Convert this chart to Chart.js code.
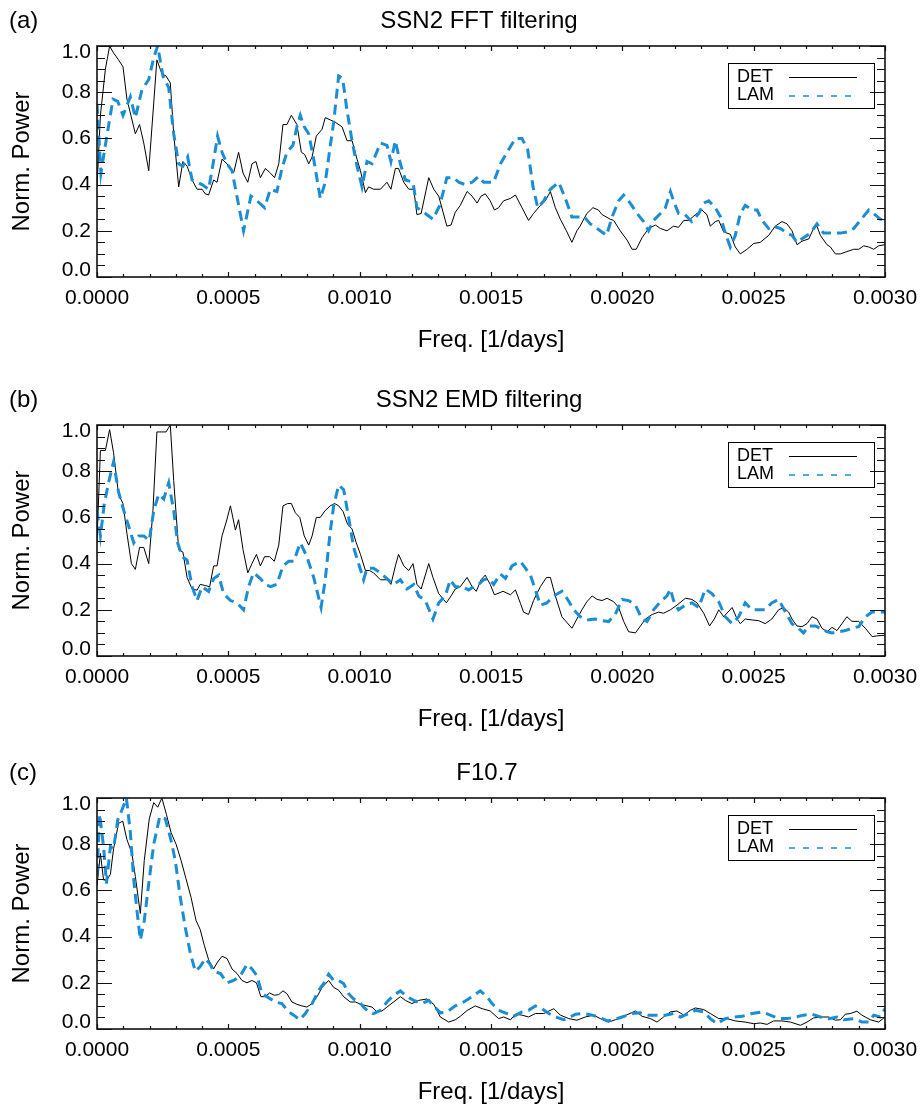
<!DOCTYPE html>
<html>
<head>
<meta charset="utf-8">
<title>Normalised power spectra</title>
<script src="https://cdn.jsdelivr.net/npm/chart.js@4.4.0/dist/chart.umd.min.js"></script>
<style>
  body { margin: 0; background: #fff; }
  #wrap { position: relative; width: 920px; height: 1108px; overflow: hidden; }
  .panel { position: absolute; left: 0; width: 920px; height: 356px; }
</style>
</head>
<body>
<div id="wrap">
  <div class="panel" style="top:0"><canvas id="chartA" width="920" height="356"></canvas></div>
  <div class="panel" style="top:379px"><canvas id="chartB" width="920" height="356"></canvas></div>
  <div class="panel" style="top:752px"><canvas id="chartC" width="920" height="356"></canvas></div>
</div>
<script>
// frequencies are in units of 1e-5 1/days, power is normalised to the max

// (a) SSN2 FFT filtering
const fftDetFreq = [0, 1.3, 3.2, 4.8, 6.3, 8.2, 9.9, 11.4, 12.9, 14.6,
  16.2, 17.8, 19.7, 22.8, 24.7, 26.3, 27.9, 29.2, 31.1, 32.7,
  34.3, 36.2, 38.1, 40.0, 41.2, 42.5, 44.4, 45.7, 47.6, 49.5,
  52.0, 53.9, 55.6, 57.4, 59.0, 60.5, 62.2, 64.1, 66.0, 67.6,
  69.2, 70.8, 72.3, 74.0, 76.1, 77.8, 79.1, 80.6, 81.9, 83.5,
  85.7, 86.9, 88.8, 90.7, 93.3, 95.2, 97.1, 99.0, 100.3, 102.2,
  103.4, 105.3, 107.9, 110.4, 111.9, 113.6, 114.8, 116.8, 118.7, 120.6,
  121.8, 123.4, 126.3, 128.2, 130.1, 133.2, 134.8, 136.4, 138.3, 140.9,
  142.8, 144.7, 146.2, 147.8, 149.7, 151.3, 152.9, 154.8, 157.4, 159.3,
  161.8, 164.3, 166.2, 168.8, 170.7, 172.6, 174.5, 176.4, 178.7, 180.8,
  182.7, 183.9, 186.5, 188.8, 190.9, 192.3, 195.4, 196.7, 199.2, 201.8,
  203.7, 205.3, 207.5, 210.0, 212.6, 214.5, 217.0, 219.5, 221.4, 223.4,
  225.3, 227.8, 230.3, 232.2, 233.5, 235.4, 236.7, 238.6, 241.1, 243.0,
  244.9, 247.5, 250.0, 252.5, 255.7, 258.2, 260.8, 262.7, 264.6, 266.5,
  268.4, 271.0, 272.8, 274.1, 275.4, 277.9, 279.2, 281.1, 283.0, 285.5,
  288.1, 290.0, 291.9, 293.8, 295.7, 297.6, 300];
const fftDetPow = [0.39, 0.70, 0.90, 1.00, 0.97, 0.94, 0.91, 0.77, 0.70, 0.62,
  0.66, 0.58, 0.46, 0.94, 0.88, 0.87, 0.84, 0.62, 0.39, 0.50,
  0.48, 0.42, 0.38, 0.38, 0.36, 0.355, 0.42, 0.41, 0.51, 0.49,
  0.45, 0.54, 0.45, 0.41, 0.49, 0.50, 0.43, 0.47, 0.45, 0.43,
  0.49, 0.66, 0.66, 0.70, 0.66, 0.54, 0.53, 0.49, 0.52, 0.61,
  0.64, 0.69, 0.68, 0.67, 0.65, 0.59, 0.59, 0.51, 0.46, 0.365,
  0.39, 0.38, 0.38, 0.41, 0.38, 0.47, 0.47, 0.41, 0.38, 0.38,
  0.27, 0.275, 0.43, 0.38, 0.35, 0.22, 0.225, 0.28, 0.31, 0.37,
  0.35, 0.32, 0.35, 0.36, 0.33, 0.29, 0.30, 0.33, 0.34, 0.355,
  0.30, 0.245, 0.275, 0.31, 0.33, 0.37, 0.30, 0.25, 0.20, 0.15,
  0.20, 0.22, 0.275, 0.30, 0.29, 0.27, 0.25, 0.245, 0.20, 0.16,
  0.12, 0.12, 0.17, 0.21, 0.225, 0.21, 0.20, 0.22, 0.215, 0.245,
  0.245, 0.27, 0.29, 0.27, 0.22, 0.24, 0.245, 0.195, 0.185, 0.13,
  0.10, 0.12, 0.145, 0.15, 0.18, 0.22, 0.24, 0.23, 0.20, 0.14,
  0.155, 0.165, 0.21, 0.22, 0.18, 0.14, 0.13, 0.10, 0.10, 0.11,
  0.12, 0.12, 0.135, 0.13, 0.12, 0.135, 0.14];
const fftLamFreq = [0, 1.5, 3.6, 6.1, 7.9, 9.9, 12.7, 14.6, 17.1, 19.7,
  21.6, 23.1, 25.1, 27.3, 29.2, 31.1, 32.7, 34.5, 36.2, 38.1,
  40.0, 42.5, 44.2, 45.9, 47.6, 49.5, 51.4, 53.6, 55.8, 58.6,
  60.9, 63.8, 66.0, 68.5, 70.4, 72.3, 74.6, 76.1, 77.4, 78.9,
  80.6, 82.5, 85.0, 86.9, 88.6, 90.1, 92.0, 93.5, 95.2, 97.1,
  99.0, 100.9, 102.8, 104.7, 107.9, 110.4, 111.9, 113.6, 115.5, 117.4,
  120.3, 121.8, 124.4, 127.9, 130.5, 133.2, 135.8, 137.7, 140.2, 142.8,
  145.3, 147.2, 151.0, 153.6, 156.1, 159.3, 161.8, 164.0, 166.0, 167.8,
  170.1, 172.6, 175.8, 178.3, 180.8, 183.0, 185.5, 187.8, 190.4, 194.0,
  196.1, 198.6, 200.5, 203.0, 205.6, 208.1, 210.0, 211.9, 214.5, 216.4,
  218.3, 219.5, 221.4, 223.9, 226.4, 229.1, 231.0, 232.9, 235.4, 237.4,
  239.2, 241.1, 243.0, 244.9, 246.8, 249.4, 251.3, 253.2, 255.7, 257.6,
  260.2, 262.7, 264.6, 266.5, 269.0, 271.6, 274.1, 276.6, 278.6, 281.1,
  283.0, 285.5, 288.1, 290.6, 293.8, 295.7, 298.2, 300];
const fftLamPow = [0.75, 0.45, 0.60, 0.77, 0.76, 0.70, 0.78, 0.69, 0.81, 0.855,
  0.95, 1.00, 0.87, 0.82, 0.62, 0.49, 0.48, 0.52, 0.42, 0.41,
  0.40, 0.38, 0.49, 0.61, 0.54, 0.49, 0.46, 0.33, 0.20, 0.35,
  0.33, 0.30, 0.38, 0.37, 0.47, 0.54, 0.57, 0.65, 0.70, 0.65,
  0.62, 0.51, 0.34, 0.41, 0.55, 0.67, 0.87, 0.86, 0.72, 0.59,
  0.48, 0.39, 0.50, 0.49, 0.58, 0.57, 0.50, 0.59, 0.49, 0.42,
  0.41, 0.30, 0.28, 0.25, 0.31, 0.43, 0.43, 0.41, 0.40, 0.41,
  0.435, 0.41, 0.41, 0.49, 0.54, 0.60, 0.60, 0.55, 0.39, 0.30,
  0.33, 0.38, 0.41, 0.34, 0.26, 0.26, 0.26, 0.23, 0.21, 0.18,
  0.26, 0.33, 0.355, 0.32, 0.275, 0.24, 0.20, 0.245, 0.275, 0.30,
  0.37, 0.33, 0.275, 0.27, 0.24, 0.275, 0.32, 0.33, 0.30, 0.26,
  0.19, 0.13, 0.18, 0.275, 0.31, 0.29, 0.29, 0.245, 0.21, 0.22,
  0.21, 0.19, 0.18, 0.15, 0.17, 0.19, 0.23, 0.19, 0.19, 0.19,
  0.19, 0.195, 0.21, 0.245, 0.29, 0.275, 0.25, 0.245];

// (b) SSN2 EMD filtering
const emdDetFreq = [0, 1.3, 3.2, 4.8, 6.3, 8.2, 9.9, 11.4, 13.1, 14.6,
  16.2, 17.8, 19.7, 21.3, 22.8, 24.7, 26.3, 27.9, 29.2, 31.1,
  32.7, 34.3, 36.2, 38.1, 39.3, 41.2, 42.9, 44.4, 45.7, 47.6,
  49.2, 50.8, 52.7, 53.9, 55.6, 57.4, 59.0, 60.7, 62.2, 63.8,
  65.7, 67.5, 69.2, 70.8, 72.6, 74.0, 75.5, 77.2, 78.9, 80.6,
  81.9, 83.5, 85.0, 86.9, 88.8, 90.5, 92.0, 93.7, 95.4, 97.1,
  98.7, 100.3, 102.2, 103.8, 105.3, 107.9, 110.4, 111.9, 113.6, 114.8,
  116.8, 118.7, 120.3, 121.8, 123.4, 126.3, 127.9, 130.1, 133.0, 134.8,
  136.4, 138.3, 140.9, 142.8, 144.4, 146.2, 147.8, 149.7, 151.3, 154.6,
  157.4, 159.3, 161.2, 162.4, 164.3, 166.2, 168.8, 171.1, 172.6, 174.5,
  177.0, 180.8, 182.7, 184.6, 186.5, 188.5, 190.4, 192.3, 194.2, 196.7,
  198.6, 200.5, 202.4, 205.0, 206.9, 208.8, 211.4, 213.8, 215.7, 218.3,
  220.8, 224.0, 226.5, 228.4, 231.0, 233.2, 235.0, 236.7, 238.6, 241.8,
  243.7, 244.9, 246.8, 249.4, 251.9, 254.4, 256.9, 259.5, 261.4, 263.3,
  264.6, 266.5, 268.4, 270.3, 272.2, 274.1, 276.0, 278.0, 279.8, 281.7,
  283.6, 285.5, 287.4, 290.0, 292.5, 295.1, 296.9, 300];
const emdDetPow = [0.50, 0.89, 0.89, 0.98, 0.88, 0.70, 0.66, 0.53, 0.40, 0.375,
  0.47, 0.47, 0.40, 0.63, 0.97, 0.97, 0.97, 1.00, 0.76, 0.46,
  0.45, 0.34, 0.29, 0.285, 0.31, 0.305, 0.30, 0.39, 0.39, 0.52,
  0.58, 0.65, 0.545, 0.59, 0.46, 0.36, 0.40, 0.44, 0.39, 0.43,
  0.43, 0.41, 0.48, 0.65, 0.66, 0.66, 0.62, 0.60, 0.52, 0.48,
  0.52, 0.60, 0.60, 0.63, 0.65, 0.66, 0.65, 0.625, 0.57, 0.55,
  0.49, 0.44, 0.37, 0.37, 0.36, 0.33, 0.33, 0.31, 0.39, 0.44,
  0.39, 0.37, 0.40, 0.31, 0.29, 0.40, 0.34, 0.27, 0.23, 0.26,
  0.29, 0.30, 0.34, 0.30, 0.28, 0.33, 0.35, 0.31, 0.265, 0.28,
  0.265, 0.286, 0.228, 0.19, 0.18, 0.24, 0.30, 0.34, 0.34, 0.26,
  0.17, 0.12, 0.16, 0.20, 0.235, 0.26, 0.245, 0.24, 0.25, 0.235,
  0.21, 0.15, 0.105, 0.10, 0.13, 0.16, 0.18, 0.19, 0.185, 0.20,
  0.22, 0.25, 0.245, 0.23, 0.185, 0.13, 0.16, 0.20, 0.17, 0.21,
  0.16, 0.14, 0.16, 0.156, 0.153, 0.14, 0.16, 0.20, 0.21, 0.19,
  0.16, 0.13, 0.127, 0.14, 0.17, 0.16, 0.12, 0.105, 0.124, 0.11,
  0.14, 0.17, 0.15, 0.15, 0.12, 0.084, 0.087, 0.09];
const emdLamFreq = [0, 1.3, 2.8, 4.4, 6.3, 8.2, 10.2, 12.1, 14.0, 15.9,
  17.8, 19.9, 21.6, 23.5, 25.4, 27.3, 29.2, 30.7, 32.4, 34.3,
  36.2, 38.1, 40.0, 42.5, 44.4, 46.3, 48.2, 50.8, 53.3, 55.8,
  57.7, 59.6, 62.2, 64.1, 66.0, 68.5, 70.8, 73.0, 74.9, 77.4,
  79.9, 82.5, 85.3, 86.9, 88.6, 90.1, 92.0, 93.9, 95.8, 97.7,
  99.6, 101.5, 102.8, 105.3, 107.9, 110.4, 112.9, 115.5, 118.0, 120.6,
  122.5, 125.0, 127.9, 130.1, 132.6, 134.5, 136.4, 138.9, 141.5, 143.4,
  145.3, 147.2, 149.1, 151.0, 153.6, 155.5, 158.0, 161.2, 163.1, 165.0,
  166.9, 168.8, 171.3, 173.9, 177.0, 178.9, 181.5, 184.0, 186.5, 189.7,
  192.3, 194.8, 197.3, 199.9, 202.4, 205.0, 207.5, 209.4, 211.9, 214.5,
  217.0, 218.3, 219.5, 221.4, 223.9, 226.5, 229.1, 231.6, 234.1, 236.7,
  239.2, 241.8, 244.3, 246.8, 249.4, 251.9, 254.4, 256.9, 259.5, 262.1,
  264.6, 267.1, 269.0, 271.0, 273.5, 275.4, 278.0, 279.8, 282.4, 284.9,
  287.4, 290.0, 292.5, 295.1, 297.6, 300];
const emdLamPow = [0.63, 0.52, 0.66, 0.75, 0.84, 0.71, 0.63, 0.56, 0.49, 0.52,
  0.52, 0.50, 0.63, 0.70, 0.68, 0.75, 0.63, 0.49, 0.43, 0.415,
  0.30, 0.24, 0.30, 0.28, 0.335, 0.35, 0.27, 0.24, 0.23, 0.20,
  0.30, 0.36, 0.335, 0.31, 0.30, 0.31, 0.39, 0.41, 0.41, 0.49,
  0.43, 0.34, 0.21, 0.33, 0.52, 0.65, 0.74, 0.72, 0.60, 0.47,
  0.40, 0.33, 0.38, 0.38, 0.36, 0.335, 0.31, 0.33, 0.29, 0.31,
  0.26, 0.24, 0.16, 0.23, 0.26, 0.33, 0.30, 0.30, 0.286, 0.30,
  0.31, 0.33, 0.336, 0.31, 0.355, 0.336, 0.39, 0.41, 0.38, 0.35,
  0.286, 0.22, 0.23, 0.26, 0.28, 0.25, 0.20, 0.17, 0.156, 0.16,
  0.153, 0.149, 0.18, 0.245, 0.24, 0.22, 0.16, 0.149, 0.20, 0.235,
  0.26, 0.29, 0.24, 0.20, 0.22, 0.23, 0.21, 0.29, 0.27, 0.235,
  0.17, 0.14, 0.17, 0.23, 0.20, 0.20, 0.20, 0.23, 0.245, 0.19,
  0.14, 0.12, 0.10, 0.13, 0.13, 0.12, 0.105, 0.10, 0.105, 0.11,
  0.12, 0.127, 0.17, 0.19, 0.19, 0.19];

// (c) F10.7
const f107DetFreq = [0, 1.3, 2.5, 3.8, 5.1, 6.3, 8.2, 9.8, 11.4, 13.3,
  14.6, 16.5, 18.0, 19.9, 21.6, 23.1, 24.7, 26.4, 28.2, 30.1,
  32.0, 33.9, 35.8, 37.7, 39.3, 40.9, 42.5, 44.4, 45.9, 47.6,
  49.5, 51.4, 53.3, 55.2, 57.1, 59.0, 60.7, 62.4, 64.1, 65.7,
  67.5, 69.2, 70.8, 72.3, 74.2, 76.1, 78.0, 79.9, 81.9, 83.8,
  85.7, 88.2, 90.1, 92.0, 93.9, 96.4, 98.4, 100.3, 102.8, 104.7,
  106.6, 108.5, 110.4, 112.9, 115.5, 117.4, 119.9, 122.5, 125.6, 128.2,
  130.7, 133.9, 136.4, 138.3, 140.9, 144.0, 146.6, 149.7, 152.9, 154.8,
  157.4, 159.3, 161.8, 164.3, 166.9, 170.1, 173.9, 176.4, 179.6, 182.7,
  185.9, 189.1, 191.6, 194.8, 197.3, 200.5, 205.0, 207.5, 210.7, 213.2,
  215.7, 218.3, 220.8, 223.4, 225.9, 227.8, 231.0, 233.5, 236.7, 239.8,
  243.0, 246.8, 250.0, 252.5, 255.1, 257.6, 260.8, 264.0, 267.8, 270.3,
  272.8, 276.0, 278.6, 281.1, 283.0, 284.9, 286.8, 289.3, 291.2, 294.4,
  297.6, 300];
const f107DetPow = [0.62, 0.76, 0.645, 0.645, 0.67, 0.78, 0.89, 0.90, 0.82, 0.76,
  0.66, 0.50, 0.73, 0.91, 0.98, 0.96, 1.00, 0.93, 0.85, 0.80,
  0.73, 0.65, 0.57, 0.47, 0.43, 0.36, 0.30, 0.26, 0.29, 0.315,
  0.305, 0.26, 0.24, 0.21, 0.20, 0.21, 0.20, 0.14, 0.14, 0.156,
  0.146, 0.149, 0.165, 0.153, 0.117, 0.107, 0.10, 0.095, 0.11, 0.14,
  0.18, 0.21, 0.18, 0.168, 0.14, 0.117, 0.117, 0.107, 0.10, 0.095,
  0.074, 0.078, 0.095, 0.117, 0.14, 0.124, 0.11, 0.124, 0.13, 0.107,
  0.052, 0.03, 0.04, 0.055, 0.08, 0.10, 0.088, 0.078, 0.045, 0.052,
  0.04, 0.064, 0.06, 0.052, 0.067, 0.067, 0.088, 0.06, 0.045, 0.038,
  0.052, 0.06, 0.045, 0.03, 0.04, 0.055, 0.078, 0.055, 0.045, 0.03,
  0.052, 0.074, 0.078, 0.06, 0.081, 0.091, 0.084, 0.067, 0.045, 0.045,
  0.035, 0.03, 0.023, 0.026, 0.02, 0.035, 0.035, 0.03, 0.016, 0.03,
  0.048, 0.052, 0.052, 0.038, 0.04, 0.064, 0.067, 0.077, 0.06, 0.04,
  0.03, 0.052];
const f107LamFreq = [0, 1.0, 2.5, 3.6, 5.1, 6.3, 7.9, 9.9, 11.2, 12.7,
  14.0, 15.2, 16.5, 18.0, 19.7, 21.6, 23.9, 26.0, 27.9, 29.8,
  31.7, 33.6, 35.5, 37.4, 39.3, 41.2, 43.1, 44.4, 47.0, 49.5,
  52.0, 54.6, 57.1, 59.0, 60.9, 62.8, 64.7, 67.9, 70.4, 73.0,
  74.9, 77.2, 79.3, 81.9, 84.4, 86.3, 88.2, 90.1, 92.0, 93.9,
  95.8, 97.7, 99.6, 101.5, 103.4, 105.3, 107.9, 110.4, 112.9, 115.5,
  118.0, 120.6, 123.7, 126.3, 128.2, 130.7, 133.2, 136.4, 139.6, 142.8,
  145.9, 148.5, 150.4, 152.9, 156.1, 158.6, 161.8, 164.3, 166.9, 169.4,
  172.0, 174.5, 177.7, 179.6, 182.2, 185.4, 188.5, 191.1, 194.2, 196.7,
  199.9, 203.7, 206.9, 210.0, 213.2, 216.4, 219.5, 222.1, 225.3, 227.8,
  231.0, 233.5, 236.0, 239.2, 242.4, 245.6, 249.4, 253.2, 256.3, 259.5,
  262.7, 265.9, 269.0, 272.2, 275.4, 278.6, 281.7, 284.3, 288.1, 291.2,
  293.8, 295.7, 298.2, 300];
const f107LamPow = [0.67, 0.93, 0.79, 0.63, 0.79, 0.78, 0.905, 0.96, 1.00, 0.85,
  0.645, 0.515, 0.385, 0.47, 0.63, 0.80, 0.92, 0.91, 0.83, 0.73,
  0.57, 0.44, 0.33, 0.25, 0.27, 0.305, 0.28, 0.25, 0.24, 0.20,
  0.21, 0.23, 0.28, 0.26, 0.23, 0.153, 0.14, 0.117, 0.11, 0.074,
  0.06, 0.04, 0.067, 0.11, 0.168, 0.197, 0.237, 0.21, 0.21, 0.197,
  0.153, 0.13, 0.12, 0.095, 0.074, 0.067, 0.081, 0.117, 0.146, 0.165,
  0.14, 0.124, 0.11, 0.124, 0.10, 0.07, 0.074, 0.10, 0.117, 0.14,
  0.165, 0.14, 0.11, 0.081, 0.067, 0.055, 0.074, 0.081, 0.10, 0.088,
  0.067, 0.052, 0.04, 0.049, 0.064, 0.067, 0.06, 0.052, 0.035, 0.04,
  0.052, 0.067, 0.07, 0.06, 0.06, 0.06, 0.067, 0.052, 0.067, 0.081,
  0.074, 0.045, 0.023, 0.045, 0.052, 0.055, 0.067, 0.074, 0.06, 0.045,
  0.045, 0.052, 0.06, 0.064, 0.052, 0.045, 0.052, 0.04, 0.045, 0.03,
  0.03, 0.06, 0.052, 0.088];

const seriesNames = ['DET', 'LAM'];
const panelLetters = ['(a)', '(b)', '(c)'];
const panelTitles = ['SSN2 FFT filtering', 'SSN2 EMD filtering', 'F10.7'];
const xAxisTitle = 'Freq. [1/days]';
const yAxisTitle = 'Norm. Power';

const FONT = '"Liberation Sans", Arial, Helvetica, sans-serif';
const BLUE = '#1b8dd4';
Chart.defaults.color = '#000';
Chart.defaults.font.family = FONT;

function points(freq, pow) {
  return freq.map((f, i) => ({ x: f * 1e-5, y: pow[i] }));
}

// box + inward major/minor ticks on all four sides (IDL style)
const frameTicks = {
  id: 'frameTicks',
  afterDatasetsDraw(chart) {
    const { ctx, chartArea: a, scales: { x, y } } = chart;
    ctx.save();
    ctx.strokeStyle = '#111';
    ctx.lineWidth = 1.2;
    ctx.beginPath();
    for (let k = 0; k <= 30; k++) {
      const px = Math.round(x.getPixelForValue(k * 1e-4)) + 0.5;
      const len = k % 5 === 0 ? 5 : 3;
      ctx.moveTo(px, a.bottom); ctx.lineTo(px, a.bottom - len);
      ctx.moveTo(px, a.top); ctx.lineTo(px, a.top + len);
    }
    for (let k = 0; k <= 20; k++) {
      const py = Math.round(y.getPixelForValue(k * 0.05)) + 0.5;
      const len = k % 4 === 0 ? 15 : 8;
      ctx.moveTo(a.left, py); ctx.lineTo(a.left + len, py);
      ctx.moveTo(a.right, py); ctx.lineTo(a.right - len, py);
    }
    ctx.stroke();
    ctx.lineWidth = 1.6;
    ctx.strokeRect(a.left, a.top, a.right - a.left, a.bottom - a.top);
    ctx.restore();
  }
};

// y tick labels, the end ones pulled inside the frame as IDL does
const yLabels = {
  id: 'yLabels',
  afterDraw(chart) {
    const { ctx, chartArea: a, scales: { y } } = chart;
    ctx.save();
    ctx.font = '21px ' + FONT;
    ctx.fillStyle = '#000';
    ctx.textAlign = 'right';
    ctx.textBaseline = 'middle';
    y.ticks.forEach(t => {
      const py = Math.min(Math.max(y.getPixelForValue(t.value), a.top + 6), a.bottom - 7);
      ctx.fillText(t.value.toFixed(1), a.left - 6, py);
    });
    ctx.restore();
  }
};

// boxed legend in the upper right, text left of the line sample
const boxLegend = {
  id: 'boxLegend',
  afterDraw(chart) {
    const { ctx, chartArea: a } = chart;
    const w = 146, h = 45;
    const left = a.right - 11 - w, top = a.top + 17;
    ctx.save();
    ctx.strokeStyle = '#000';
    ctx.lineWidth = 1;
    ctx.strokeRect(left + 0.5, top + 0.5, w, h);
    ctx.font = '18px ' + FONT;
    ctx.fillStyle = '#000';
    ctx.textAlign = 'left';
    ctx.textBaseline = 'alphabetic';
    chart.data.datasets.forEach((ds, i) => {
      ctx.fillText(ds.label, left + 9, top + 19 + i * 18);
      const ly = top + 14.5 + i * 18.5;
      ctx.beginPath();
      ctx.strokeStyle = ds.borderColor;
      ctx.lineWidth = i === 0 ? 1 : 1.5;
      ctx.setLineDash(i === 0 ? [] : [6, 8]);
      ctx.moveTo(left + 61, ly);
      ctx.lineTo(left + 129, ly);
      ctx.stroke();
    });
    ctx.restore();
  }
};

// panel letter and title above the plot
const panelText = {
  id: 'panelText',
  afterDraw(chart, args, opts) {
    const { ctx, chartArea: a } = chart;
    ctx.save();
    ctx.font = '24px ' + FONT;
    ctx.fillStyle = '#000';
    ctx.textBaseline = 'alphabetic';
    ctx.textAlign = 'left';
    ctx.fillText(opts.letter, 9, a.top - 18);
    ctx.textAlign = 'center';
    ctx.fillText(opts.title, opts.titleX, a.top - 18);
    ctx.restore();
  }
};

function makeChart(id, idx, titleX, det, lam) {
  return new Chart(document.getElementById(id), {
    type: 'line',
    data: {
      datasets: [
        { label: seriesNames[0], data: det, borderColor: '#000', borderWidth: 1, order: 1 },
        { label: seriesNames[1], data: lam, borderColor: BLUE, borderWidth: 3, borderDash: [10, 6], order: 0 }
      ]
    },
    options: {
      responsive: false,
      animation: false,
      events: [],
      elements: { point: { radius: 0 }, line: { tension: 0, fill: false } },
      layout: { padding: { left: 0, right: 35, top: 46, bottom: 1 } },
      scales: {
        x: {
          type: 'linear', min: 0, max: 0.003,
          afterFit: s => { s.height = 78; s.paddingLeft = 0; s.paddingRight = 0; },
          grid: { display: false, drawTicks: false },
          border: { display: false },
          ticks: {
            stepSize: 0.0005, padding: 9, maxRotation: 0, autoSkip: false,
            font: { size: 21 }, callback: v => v.toFixed(4)
          },
          title: { display: true, text: xAxisTitle, font: { size: 24 }, padding: 0 }
        },
        y: {
          type: 'linear', min: 0, max: 1,
          afterFit: s => { s.width = 97; s.paddingTop = 0; s.paddingBottom = 0; },
          grid: { display: false, drawTicks: false },
          border: { display: false },
          ticks: { stepSize: 0.2, display: false },
          title: { display: true, text: yAxisTitle, font: { size: 24 }, padding: { top: 8, bottom: 0 } }
        }
      },
      plugins: {
        legend: { display: false },
        tooltip: { enabled: false },
        panelText: { letter: panelLetters[idx], title: panelTitles[idx], titleX: titleX }
      }
    },
    plugins: [frameTicks, yLabels, boxLegend, panelText]
  });
}

makeChart('chartA', 0, 479, points(fftDetFreq, fftDetPow), points(fftLamFreq, fftLamPow));
makeChart('chartB', 1, 479, points(emdDetFreq, emdDetPow), points(emdLamFreq, emdLamPow));
makeChart('chartC', 2, 487, points(f107DetFreq, f107DetPow), points(f107LamFreq, f107LamPow));
</script>
</body>
</html>
